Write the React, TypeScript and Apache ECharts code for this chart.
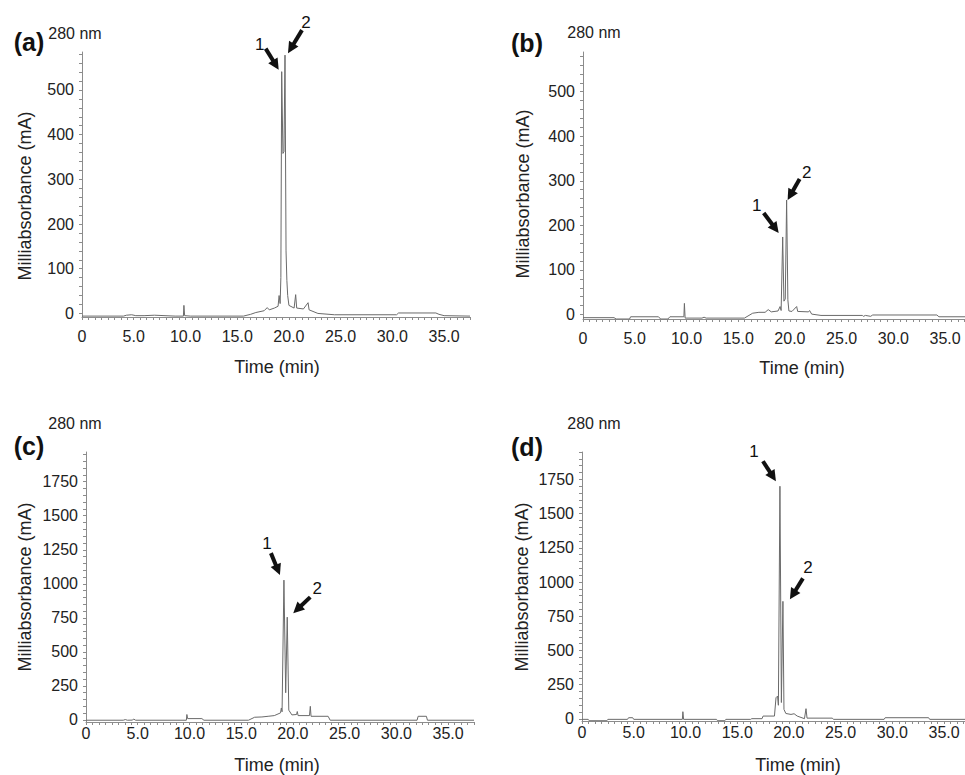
import React, { useEffect, useRef } from 'react';
import * as echarts from 'echarts';

// ---------- data ----------
const timeLabels = [0, 5, 10, 15, 20, 25, 30, 35];
const yLabelsAB = [0, 100, 200, 300, 400, 500];
const yLabelsCD = [0, 250, 500, 750, 1000, 1250, 1500, 1750];
const panelLetters = ['(a)', '(b)', '(c)', '(d)'];
const wavelength = '280 nm';
const xName = 'Time (min)';
const yName = 'Milliabsorbance (mA)';

const traceA: [number, number][] = [
  [0, -6], [4.0, -6], [4.3, -4], [4.8, -3], [5.2, -5], [6.0, -5], [7.0, -4], [9.0, -6], [9.8, -6],
  [9.85, 18], [9.92, -5], [10.5, -6], [15.6, -6], [16.3, -2], [16.8, 2], [17.6, 6], [17.9, 13],
  [18.1, 8], [18.6, 12], [18.95, 16], [19.05, 40], [19.15, 22], [19.22, 80], [19.3, 541],
  [19.42, 358], [19.52, 362], [19.62, 578], [19.72, 140], [19.8, 74], [19.88, 40], [20.0, 18],
  [20.5, 12], [20.65, 42], [20.75, 12], [21.4, 10], [21.85, 24], [21.95, 8], [22.8, 0],
  [24.4, -3], [30.4, -3], [30.6, 1], [34.2, 1], [34.5, -2], [35.0, -5], [37.5, -6],
];
const traceB: [number, number][] = [
  [0, -7], [3.0, -7], [3.2, -10], [4.5, -10], [4.6, -5], [7.3, -5], [7.5, -10], [8.2, -10],
  [8.4, -5], [9.75, -5], [9.8, 25], [9.87, -8], [11.5, -8], [11.7, -6], [11.9, -8], [15.6, -8],
  [16.4, 3], [17.0, 5], [17.6, 5], [17.9, 11], [18.2, 6], [18.85, 8], [19.05, 18], [19.15, 9],
  [19.3, 174], [19.42, 30], [19.55, 35], [19.68, 257], [19.8, 33], [19.9, 8], [20.2, 7],
  [20.65, 18], [20.75, 7], [21.8, 6], [21.9, 9], [22.1, 1], [23.0, -2], [27.0, -2], [27.1, -4],
  [27.3, -2], [27.8, -4], [28.0, -1], [34.2, -1], [34.4, -5], [37.5, -5],
];
const traceC: [number, number][] = [
  [0, -2], [3.6, -2], [3.8, 3], [4.0, -2], [4.5, -1], [4.6, 7], [4.8, -2], [9.7, -2], [9.75, 40],
  [9.82, 10], [11.2, 10], [11.4, -2], [15.7, -2], [16.3, 20], [17.0, 22], [17.6, 27], [18.2, 32],
  [18.8, 52], [18.88, 88], [18.95, 60], [19.13, 1027], [19.3, 200], [19.45, 755], [19.6, 72],
  [19.9, 37], [20.35, 40], [20.42, 62], [20.5, 32], [21.6, 32], [21.68, 100], [21.75, 27],
  [23.4, 27], [23.6, -2], [32.0, -2], [32.1, 27], [32.9, 27], [33.0, -2], [37.5, -2],
];
const traceD: [number, number][] = [
  [0, -3], [0.6, -3], [0.7, -13], [2.4, -13], [2.5, -3], [4.4, -3], [4.5, 9], [4.9, 9], [5.0, -3],
  [9.7, -3], [9.75, 53], [9.82, -3], [13.0, -3], [13.1, -13], [13.8, -13], [13.9, -3], [16.3, -3],
  [16.4, 2], [17.4, 2], [17.5, 21], [18.6, 21], [18.75, 155], [18.9, 167], [18.98, 100],
  [19.13, 1700], [19.27, 120], [19.42, 859], [19.52, 70], [19.7, 40], [20.2, 33], [20.5, 38],
  [20.8, 21], [21.5, 2], [21.65, 75], [21.75, 6], [24.2, 6], [24.3, -3], [29.2, -3], [29.3, 9],
  [33.5, 9], [33.6, -3], [37.5, -3],
];

// peaks pointed at by arrows (time, mA)
const peaksA: [number, number][] = [[19.3, 541], [19.62, 578]];
const peaksB: [number, number][] = [[19.3, 174], [19.68, 257]];
const peaksC: [number, number][] = [[19.13, 1027], [19.45, 755]];
const peaksD: [number, number][] = [[19.13, 1700], [19.42, 859]];
const peakNames = ['1', '2'];

// ---------- layout / style ----------
const FONT = '"Liberation Sans", Arial, Helvetica, sans-serif';
// arrow offsets in px: tip offset from peak (dx,dy), tail rel. tip (tx,ty), label rel. tip (lx,ly)
const arrowStyles = [
  [{ dx: -3, dy: -2, tx: -13, ty: -21, lx: -19, ly: -25 }, { dx: 3, dy: -2, tx: 14, ty: -23, lx: 18, ly: -31 }],
  [{ dx: -4, dy: -4, tx: -15, ty: -20, lx: -22, ly: -27 }, { dx: 1, dy: 0, tx: 12, ty: -21, lx: 19, ly: -27 }],
  [{ dx: -4, dy: -5, tx: -9, ty: -22, lx: -13, ly: -32 }, { dx: 6, dy: -4, tx: 17, ty: -16, lx: 24, ly: -25 }],
  [{ dx: -4, dy: -5, tx: -13, ty: -20, lx: -22, ly: -30 }, { dx: 7, dy: -2, tx: 13, ty: -21, lx: 18, ly: -32 }],
];

const panels = [
  { trace: traceA, peaks: peaksA, yLabels: yLabelsAB, yMin: -8, yMax: 585, yStep: 20,
    grid: { left: 82, top: 52, width: 388, height: 265 }, xMargin: 11,
    letter: [29, 42], nm: [75, 33], xn: [277, 367], yn: [25, 196] },
  { trace: traceB, peaks: peaksB, yLabels: yLabelsAB, yMin: -10, yMax: 589, yStep: 20,
    grid: { left: 583, top: 52, width: 388, height: 267 }, xMargin: 11,
    letter: [527, 43], nm: [594, 32], xn: [802, 368], yn: [523, 194] },
  { trace: traceC, peaks: peaksC, yLabels: yLabelsCD, yMin: -15, yMax: 1968, yStep: 50,
    grid: { left: 86, top: 452, width: 388, height: 270 }, xMargin: 3,
    letter: [29, 446], nm: [75, 423], xn: [277, 765], yn: [25, 587] },
  { trace: traceD, peaks: peaksD, yLabels: yLabelsCD, yMin: -15, yMax: 1950, yStep: 50,
    grid: { left: 582, top: 452, width: 388, height: 269 }, xMargin: 3,
    letter: [527, 447], nm: [594, 423], xn: [798, 765], yn: [522, 587] },
];

const X_MAX = 37.5;
const xTickValues: number[] = [];
for (let i = 0; i <= 60; i++) xTickValues.push(+(i * 0.625).toFixed(3));

function buildOption() {
  const axisColor = '#8c8c8c';
  const grid: any[] = [];
  const xAxis: any[] = [];
  const yAxis: any[] = [];
  const series: any[] = [];
  const graphic: any[] = [];

  panels.forEach((p, i) => {
    grid.push({ ...p.grid, containLabel: false, outerBoundsMode: 'none' });
    xAxis.push({
      type: 'value', gridIndex: i, min: 0, max: X_MAX,
      axisLine: { show: true, onZero: false, lineStyle: { color: axisColor, width: 1 } },
      axisTick: { show: true, length: 3, customValues: xTickValues, lineStyle: { color: axisColor } },
      axisLabel: {
        customValues: timeLabels, margin: p.xMargin, fontSize: 16, color: '#222', fontFamily: FONT,
        formatter: (v: number) => (v === 0 ? '0' : v.toFixed(1)),
      },
      splitLine: { show: false },
    });
    const yTicks: number[] = [];
    for (let v = 0; v <= p.yMax; v += p.yStep) yTicks.push(v);
    yAxis.push({
      type: 'value', gridIndex: i, min: p.yMin, max: p.yMax,
      axisLine: { show: true, onZero: false, lineStyle: { color: axisColor, width: 1 } },
      axisTick: { show: true, length: 3, customValues: yTicks, lineStyle: { color: axisColor } },
      axisLabel: {
        customValues: p.yLabels, margin: 8, fontSize: 16, color: '#222', fontFamily: FONT,
        formatter: (v: number) => String(Math.round(v)),
      },
      splitLine: { show: false },
    });
    series.push({
      type: 'line', xAxisIndex: i, yAxisIndex: i, data: p.trace, showSymbol: false, symbol: 'none',
      lineStyle: { color: '#6a6a6a', width: 1 }, silent: true, z: 2,
    });
    const styles = arrowStyles[i];
    series.push({
      type: 'custom', xAxisIndex: i, yAxisIndex: i, data: p.peaks, clip: false, silent: true, z: 10,
      encode: { x: 0, y: 1 },
      renderItem: (params: any, api: any) => {
        const k = params.dataIndex;
        const st = styles[k];
        const pt = api.coord([api.value(0), api.value(1)]);
        const tip = [pt[0] + st.dx, pt[1] + st.dy];
        const tail = [tip[0] + st.tx, tip[1] + st.ty];
        const len = Math.hypot(st.tx, st.ty);
        const ux = -st.tx / len, uy = -st.ty / len;
        const hl = 11, hw = 5.5;
        const base = [tip[0] - ux * hl, tip[1] - uy * hl];
        const px = -uy, py = ux;
        return {
          type: 'group',
          children: [
            { type: 'line', shape: { x1: tail[0], y1: tail[1], x2: base[0] + ux * 2, y2: base[1] + uy * 2 },
              style: { stroke: '#111', lineWidth: 4 } },
            { type: 'polygon', shape: { points: [tip, [base[0] + px * hw, base[1] + py * hw], [base[0] - px * hw, base[1] - py * hw]] },
              style: { fill: '#111' } },
            { type: 'text', x: tip[0] + st.lx, y: tip[1] + st.ly,
              style: { text: peakNames[k], fill: '#111', font: `17px ${FONT}`, align: 'center', verticalAlign: 'middle' } },
          ],
        };
      },
    });
    graphic.push(
      { type: 'text', x: p.letter[0], y: p.letter[1], silent: true,
        style: { text: panelLetters[i], fill: '#111', font: `bold 25px ${FONT}`, align: 'center', verticalAlign: 'middle' } },
      { type: 'text', x: p.nm[0], y: p.nm[1], silent: true,
        style: { text: wavelength, fill: '#222', font: `16px ${FONT}`, align: 'center', verticalAlign: 'middle' } },
      { type: 'text', x: p.xn[0], y: p.xn[1], silent: true,
        style: { text: xName, fill: '#222', font: `18px ${FONT}`, align: 'center', verticalAlign: 'middle' } },
      { type: 'text', x: p.yn[0], y: p.yn[1], rotation: Math.PI / 2, silent: true,
        style: { text: yName, fill: '#222', font: `18px ${FONT}`, align: 'center', verticalAlign: 'middle' } },
    );
  });

  return { animation: false, backgroundColor: '#ffffff', grid, xAxis, yAxis, series, graphic };
}

export default function App() {
  const ref = useRef<HTMLDivElement>(null);
  useEffect(() => {
    if (!ref.current) return;
    const chart = echarts.init(ref.current, undefined, { renderer: 'svg' });
    chart.setOption(buildOption());
    return () => chart.dispose();
  }, []);
  return (
    <div
      ref={ref}
      style={{ position: 'absolute', left: 0, top: 0, width: 965, height: 775, background: '#fff' }}
    />
  );
}
